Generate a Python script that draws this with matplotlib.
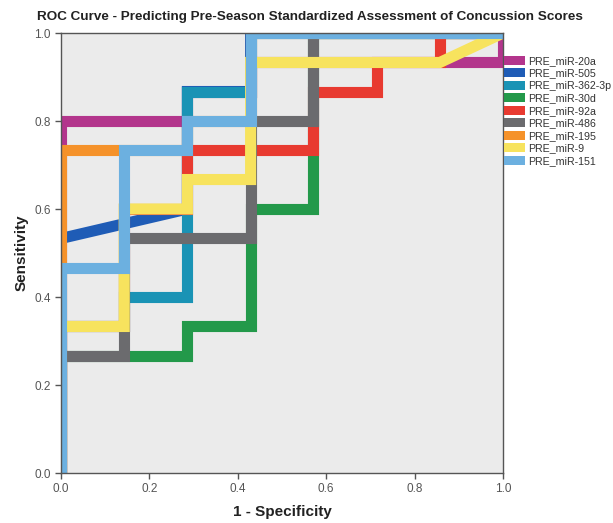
import matplotlib
matplotlib.use('Agg')
import matplotlib.pyplot as plt
from matplotlib.patches import Patch

# ROC curve vertices (1 - specificity, sensitivity)
names = ['PRE_miR-20a', 'PRE_miR-505', 'PRE_miR-362-3p', 'PRE_miR-30d', 'PRE_miR-92a',
         'PRE_miR-486', 'PRE_miR-195', 'PRE_miR-9', 'PRE_miR-151']
colors = ['#B3358C', '#1F5CB6', '#1A93B5', '#23994A', '#E83A30',
          '#6B6B6E', '#F5922A', '#F7E35E', '#6CB0E0']

fpr_20a = [0, 0, 0.286, 0.286, 0.429, 0.429, 0.857, 1.0, 1.0]
tpr_20a = [0, 0.8, 0.8, 0.867, 0.867, 0.933, 0.933, 0.933, 1.0]

fpr_505 = [0, 0, 0.286, 0.286, 0.429, 0.429, 1.0]
tpr_505 = [0, 0.533, 0.6, 0.867, 0.867, 1.0, 1.0]

fpr_362 = [0, 0, 0.143, 0.143, 0.286, 0.286, 0.429, 0.429, 1.0]
tpr_362 = [0, 0.333, 0.333, 0.4, 0.4, 0.867, 0.867, 1.0, 1.0]

fpr_30d = [0, 0, 0.286, 0.286, 0.429, 0.429, 0.571, 0.571, 1.0]
tpr_30d = [0, 0.267, 0.267, 0.333, 0.333, 0.6, 0.6, 1.0, 1.0]

fpr_92a = [0, 0, 0.143, 0.143, 0.286, 0.286, 0.571, 0.571, 0.714, 0.714, 0.857, 0.857, 1.0]
tpr_92a = [0, 0.333, 0.333, 0.6, 0.6, 0.733, 0.733, 0.867, 0.867, 0.933, 0.933, 1.0, 1.0]

fpr_486 = [0, 0, 0.143, 0.143, 0.429, 0.429, 0.571, 0.571, 1.0]
tpr_486 = [0, 0.267, 0.267, 0.533, 0.533, 0.8, 0.8, 1.0, 1.0]

fpr_195 = [0, 0, 0.286, 0.286, 0.429, 0.429, 1.0]
tpr_195 = [0, 0.733, 0.733, 0.8, 0.8, 1.0, 1.0]

fpr_9 = [0, 0, 0.143, 0.143, 0.286, 0.286, 0.429, 0.429, 0.857, 1.0]
tpr_9 = [0, 0.333, 0.333, 0.6, 0.6, 0.667, 0.667, 0.933, 0.933, 1.0]

fpr_151 = [0, 0, 0.143, 0.143, 0.286, 0.286, 0.429, 0.429, 1.0]
tpr_151 = [0, 0.467, 0.467, 0.733, 0.733, 0.8, 0.8, 1.0, 1.0]

curves = [(fpr_20a, tpr_20a), (fpr_505, tpr_505), (fpr_362, tpr_362), (fpr_30d, tpr_30d),
          (fpr_92a, tpr_92a), (fpr_486, tpr_486), (fpr_195, tpr_195), (fpr_9, tpr_9),
          (fpr_151, tpr_151)]

ticks = [0.0, 0.2, 0.4, 0.6, 0.8, 1.0]

plt.rcParams['font.family'] = ['Liberation Sans', 'DejaVu Sans']

fig = plt.figure(figsize=(6.13, 5.23), dpi=100)
ax = fig.add_axes([61 / 613, 1 - 473 / 523, 442 / 613, 440 / 523])
ax.set_facecolor('#EBEBEB')

for (x, y), c in zip(curves, colors):
    ax.plot(x, y, color=c, linewidth=8, solid_joinstyle='miter', solid_capstyle='butt')

ax.set_xlim(0, 1)
ax.set_ylim(0, 1)
ax.set_xticks(ticks)
ax.set_yticks(ticks)
ax.set_xticklabels([f'{t:.1f}' for t in ticks])
ax.set_yticklabels([f'{t:.1f}' for t in ticks])
ax.tick_params(direction='out', length=4, width=1, color='#555555',
               labelcolor='#555555', labelsize=8.5)
for s in ax.spines.values():
    s.set_color('#555555')
    s.set_linewidth(1)

ax.set_xlabel('1 - Specificity', fontsize=11, fontweight='bold', color='#222222', labelpad=7)
ax.set_ylabel('Sensitivity', fontsize=11, fontweight='bold', color='#222222', labelpad=4)
fig.text(310 / 613, 1 - 17 / 523,
         'ROC Curve - Predicting Pre-Season Standardized Assessment of Concussion Scores',
         ha='center', va='center', fontsize=9.7, fontweight='bold', color='#222222')

handles = [Patch(facecolor=c, edgecolor='none') for c in colors]
fig.legend(handles, names, loc='upper left', bbox_to_anchor=(504 / 613, 1 - 56 / 523),
           frameon=False, fontsize=7.7, handlelength=2.0, handleheight=0.9,
           labelspacing=0.22, handletextpad=0.25, borderpad=0, borderaxespad=0,
           labelcolor='#333333')

fig.savefig('out.png', dpi=100)
